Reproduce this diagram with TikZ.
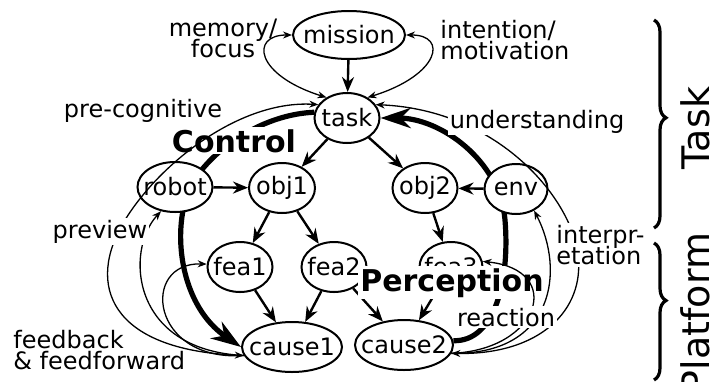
\documentclass[tikz,border=0pt]{standalone}
\usepackage{fontspec}
\setmainfont{DejaVu Sans}
\usepackage{tikz}
\usetikzlibrary{arrows.meta,shapes.geometric,decorations.pathreplacing}
\pgfdeclarelayer{back}
\pgfsetlayers{back,main}

\begin{document}
\lineskiplimit=-20pt
\begin{tikzpicture}[x=0.5pt, y=-0.5pt,
  ent/.style={ellipse, draw, line width=1pt, fill=white, inner sep=0pt,
              minimum width=#1, minimum height=25pt, font=\fontsize{12}{10}\selectfont,
              execute at begin node={\hbox to 0pt\bgroup\hss},
              execute at end node={\hss\egroup}},
  edge/.style={-{Stealth[length=7.5pt,width=6pt]}, line width=1.2pt},
  fine/.style={-{Stealth[length=4.5pt,width=3.5pt]}, line width=0.65pt},
  both/.style={{Stealth[length=4.5pt,width=3.5pt]}-{Stealth[length=4.5pt,width=3.5pt]}, line width=0.65pt},
  heavy/.style={-{Stealth[length=15pt,width=10pt]}, line width=2.6pt},
  lbl/.style={font=\fontsize{12}{10.5}\selectfont, inner sep=0pt},
  cover/.style={lbl, fill=white, inner sep=1pt},
  big/.style={font=\fontsize{15}{15}\selectfont\bfseries, fill=white, inner sep=1pt},
  side/.style={decorate, decoration={brace, amplitude=6pt, aspect=#1}, line width=1.6pt},
  level/.style={rotate=90, font=\fontsize{19}{19}\selectfont, inner sep=0pt}
]
\useasboundingbox (0,0) rectangle (711,381);

% nodes
\node[ent=56pt, minimum height=24pt] (mission) at (349,35) {mission};
\node[ent=32.5pt] (task)   at (347,118) {task};
\node[ent=37.5pt] (robot)  at (175,187) {robot};
\node[ent=33pt]   (obj1)   at (282,188) {obj1};
\node[ent=32.5pt] (obj2)   at (425,188) {obj2};
\node[ent=31.5pt] (env)    at (516,189) {env};
\node[ent=32.5pt] (fea1)   at (240,267) {fea1};
\node[ent=32.5pt] (fea2)   at (334,267) {fea2};
\node[ent=31.5pt] (fea3)   at (451,267) {fea3};
\node[ent=50pt]   (cause1) at (292,347) {cause1};
\node[ent=49pt]   (cause2) at (404,345) {cause2};

% heavy loops behind the nodes
\begin{pgfonlayer}{back}
\fill[white] (0,0) rectangle (711,381);
\draw[heavy] (task.170) .. controls (270,114) and (225,140) .. (200,172)
             .. controls (170,205) and (172,300) .. (cause1.west);
\draw[heavy] (cause2.5) .. controls (495,342) and (510,280) .. (505,220)
             .. controls (500,160) and (440,118) .. (task.east);
\end{pgfonlayer}

% hierarchy
\draw[edge] (mission) -- (task);
\draw[edge] (task) -- (obj1);
\draw[edge] (task) -- (obj2);
\draw[edge] (robot) -- (obj1);
\draw[edge] (env) -- (obj2);
\draw[edge] (obj1) -- (fea1);
\draw[edge] (obj1) -- (fea2);
\draw[edge] (obj2) -- (fea3);
\draw[edge] (fea1) -- (cause1);
\draw[edge] (fea2) -- (cause1);
\draw[edge] (fea2) -- (cause2);
\draw[edge] (fea3) -- (cause2);

\node[big, anchor=base] (control) at (234,152) {Control};
\node[big, anchor=base] (percept) at (452,291) {Perception};

% task loops
\draw[both] (mission.west) .. controls (250,35) and (255,75) .. (task.135);
\draw[both] (mission.east) .. controls (448,35) and (440,75) .. (task.45);

% left side
\draw[both] (cause1.190) .. controls (110,350) and (85,285) .. (125,220)
            .. controls (160,163) and (240,100) .. (task.155);
\draw[fine] (cause1.190) .. controls (130,350) and (125,250) .. (robot.240);
\draw[fine] (cause1.190) .. controls (150,362) and (140,262) .. (fea1.175);

% right side
\draw[fine] (cause2.-10) .. controls (540,350) and (565,270) .. (fea3.10);
\draw[fine] (cause2.-10) .. controls (555,355) and (565,270) .. (env.-50);
\draw[both] (cause2.-10) .. controls (540,355) and (585,310) .. (578,255)
            .. controls (572,200) and (500,110) .. (task.25);

% labels
\node[lbl, align=center] (memory) at (223,38) {memory/\\focus};
\node[lbl, align=left, anchor=west] (intent) at (440,40) {intention/\\motivation};
\node[lbl, anchor=base] (precog) at (143,117) {pre-cognitive};
\node[cover, anchor=base] (underst) at (537,128) {understanding};
\node[cover, anchor=base] (preview) at (100,238) {preview};
\node[cover, align=left, anchor=west] (interp) at (554,245) {interpr-\\etation};
\node[cover, anchor=base] (react) at (506,326) {reaction};
\node[lbl, align=left, anchor=west] (feedb) at (13,350) {feedback\\\& feedforward};

% levels
\draw[side=0.47] (654,20) -- (654,228);
\draw[side=0.42] (654,243) -- (654,380);
\node[level] (tasklvl) at (695,128) {Task};
\node[level] (platlvl) at (695,313) {Platform};

\end{tikzpicture}
\end{document}
